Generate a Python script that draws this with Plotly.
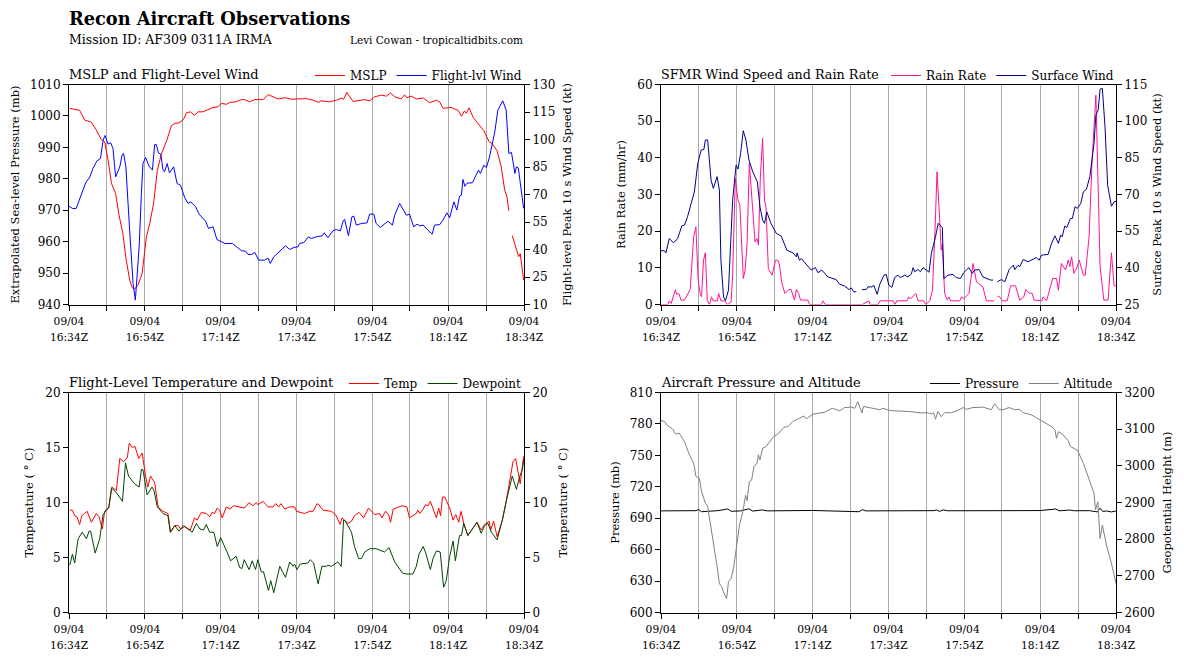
import plotly.graph_objects as go

# ---------- time axis (minutes after 16:34Z) ----------
tick_minutes = [0, 10, 20, 30, 40, 50, 60, 70, 80, 89.9, 100, 110, 120]
tick_times = ["16:34Z", "", "16:54Z", "", "17:14Z", "", "17:34Z", "", "17:54Z", "", "18:14Z", "", "18:34Z"]
tick_date = "09/04"

# ---------- MSLP (mb) ----------
mslp_t = [0.2,2.8,4.1,5.9,7.2,8.5,9.4,10.3,11.2,12.3,13.2,14.2,15.1,16,16.7,17.3,18.2,19.3,20.4,21.3,22.3,23.3,24.4,25.8,27,27.9,29,30.2,31,32,33.1,34,35.3,36.7,38,39.3,40.2,41.5,42.5,44.1,45.5,46.3,47.6,49,51.2,52.5,53.8,55.1,56.9,58.6,60.1,62.6,64.4,65.9,66.5,68.7,70.5,71.8,72.4,73.3,74.9,77.1,78,79.3,80.6,82.4,83.7,84.8,85.9,87.6,88.5,89.1,90.3,91.6,93.4,95.1,96.9,97.8,98.6,100.8,102.6,103.5,104.3,104.8,105.5,106.6,107.9,109.4,110.8,111.6,112.9,114,114.9,115.5,116,116.4,116.9,117.5,118.6,119,119.9]
mslp_v = [1002.4,1001.8,998.7,998,995.5,992.5,991.8,986,978.5,975.3,968.4,962.6,954.1,947.8,945.3,944.9,946.2,949.9,961.5,965.8,972.1,982.7,988,992.3,996.9,997.6,997.8,998.9,1001,1001.3,1000.2,1001.3,1001.3,1002,1002.7,1002.9,1004,1003.7,1004.3,1004.5,1005.2,1005.2,1004.5,1005.2,1005.2,1006.8,1006,1005.4,1005.8,1005.3,1005.4,1005.5,1005,1004.3,1004.8,1004.5,1005,1005.7,1005.3,1007.5,1004.6,1004.9,1005.2,1004.8,1006.1,1006.6,1006.3,1007.3,1006.1,1005.4,1006.7,1005.8,1006.3,1005.4,1005.7,1004.2,1005,1004.4,1002.4,1002.7,1001.8,999.9,1001.6,1000.8,1002.6,999.5,997.4,995.3,991.8,991.2,988.9,983.8,976.4,974.3,969.8,None,961.9,959.4,955.2,956.2,947.8]

# ---------- Flight-level wind (kt) ----------
flwind_t = [0,0.9,1.9,3,4.4,5.5,6.3,7.4,8.3,9,9.5,10.3,11,11.6,12.3,13.4,14,14.4,15,16,16.9,17.5,18.5,19.1,19.5,20.2,21.1,22,22.6,23,23.6,24.2,24.8,25.2,25.9,26.5,27.6,28.5,29.4,30.5,31.4,32.1,33.4,34.3,36,36.8,38,39,41.1,43.1,45.5,46.6,47.2,48.1,49,50,51.6,52.5,53.1,54,55.6,57.1,58.2,59.3,60.4,60.8,61.9,63.2,63.9,65.2,66.8,67.3,68.3,69.6,70.5,71.6,72.3,72.7,73.7,74.6,75.1,75.8,77.1,78.6,79.3,80.4,81,82.1,84.1,85.3,85.9,87.2,89,89.8,90.9,91.8,92.5,93.4,94.7,95.8,96.4,97.8,98.6,99.7,100.4,101.5,102.3,103,103.5,103.9,104.4,105,106.4,107.2,108,108.5,109.4,110.1,110.9,112.3,113.1,114.4,115.3,116,116.7,117.6,118,118.5,119.9]
flwind_v = [63.6,62.4,62.4,68.4,76.4,79.6,84.2,88.4,89.6,99.6,102.2,97.5,98.2,95.1,79.6,85.1,91.5,92.4,85.1,50.5,21.5,12.4,41.5,70.5,86.9,90.2,85.5,83.3,97.3,97.3,92.7,92,83.3,82.4,86.9,81.8,85.1,76,75.1,68.4,65.1,66,63.3,59.3,55.5,51.5,52.4,45.5,43.3,43.3,39.3,39.1,37.3,37.3,38.4,34.2,34.2,35.3,32.4,36,39.1,42,40,41.1,41.5,43.3,43.8,46.9,46,46.9,47.5,49.1,46.4,50.2,50.9,50.2,55.6,56.4,47.5,57.8,58.2,53.3,54.2,54.5,59.3,59.3,54.2,52,55.5,53.3,58.7,65.1,58.7,59.3,52.4,53.8,52.9,53.3,50.5,48.4,53.3,53.6,56,60,57.3,66,61.5,69.1,69.6,78.2,74.5,76.2,76.4,79.6,83.3,81.5,86,84.7,90.5,104.2,116,121.1,116,92.4,92.9,81.5,85.1,84.5,62.4]

# ---------- Rain rate (mm/hr) ----------
rain_t = [0,1.8,2.2,2.7,3.8,4.1,4.7,5.3,6.2,7.7,8.6,9.2,9.8,10.3,10.7,11.2,11.7,12.2,12.8,13.3,13.8,14.9,15.2,15.8,16.7,17.6,18.5,18.9,19.6,20.3,20.8,21.7,22.2,22.7,23.3,24.2,24.8,25.3,25.7,26.2,26.8,27.3,27.7,28.3,29.3,30.2,30.8,31.2,31.9,32.7,33.7,34.3,35.2,35.7,36.3,36.8,38.7,39.2,42.3,42.7,43.3,49.7,53.1,54.8,55.2,57.2,57.8,61.2,61.7,62.2,64.9,65.3,65.8,67.2,67.8,69.3,69.8,70.9,71.6,72.3,72.8,73.5,73.9,74.2,74.8,75.5,75.9,76.4,78.8,79.3,79.8,81.2,81.9,82.3,83.2,84.2,84.9,85.8,87.9,88.3,88.7,89.3,90,91.3,92.2,93.5,94.6,95.7,96.2,97,97.9,98.4,100.4,100.8,101.7,103.3,104.3,104.8,105.6,106.7,107.4,107.8,108.3,108.9,109.6,110.3,111.4,111.9,112.9,113.7,114.7,115.8,116.8,117.9,118.8,119.5,120]
rain_v = [0,0,1,0.3,4.1,2.8,3,1.2,1.2,4.1,18.5,21.2,6.6,3,2.1,12.1,14.1,1.2,0,2.1,1,1,3,1,1,0,0.7,8.5,34.4,28.5,27.1,7.1,9.4,16.6,38.5,25.7,17.1,18,16.2,34.8,45.3,28.5,26.6,9.8,8,12.1,12.1,11,5.7,3,4.1,4.1,1.2,4.1,3,1.2,1.2,0,0,1,0,0,0,1,0,0,1,1,0,1,1,2.1,1.5,3,1,1,0,1,3.9,21.2,36.2,23,14.8,16.6,3,1.2,2.1,1,1,2.1,1.5,3,7.5,11.2,6.2,5.3,4.8,1,1,None,2.3,2.1,1,1,5.1,5.1,1.2,2.1,4.1,3.2,3,1.2,1,2.1,1,7.1,7.1,3.9,11.2,9.4,12.1,10.3,13,8.5,9.8,12.1,8,8,18.5,39.4,57.1,10.3,1.2,1.2,14.1,5.1,5.1]

# ---------- SFMR surface wind (kt) ----------
sfmr_t = [0,0.9,1.3,2.2,3.3,4.4,5.5,6.2,7,8.2,8.8,9.7,10.6,11.3,11.7,12.3,13.2,13.8,14.8,15.4,15.8,16.5,17,17.8,18.9,19.8,20.3,21,21.7,22.4,23.2,24.2,25.4,26.1,26.8,27.3,27.9,29,30.4,31.7,33.2,34.8,35.7,35.9,36.5,37,38.3,39.6,40.7,41.4,42.4,44,46.2,47.1,48.4,49.6,50.2,50.8,51.5,52.2,53,54.1,54.6,55.7,56.1,57,57.7,58.8,59.4,60.1,60.9,61.6,62.5,63.1,64.3,65.1,66,66.5,66.9,67.8,68.4,69.1,70.7,71.3,72.4,73.1,74.2,74.6,75.7,77,77.9,79,79.8,81.2,82.1,82.7,83.9,84.9,86.9,87.6,88.1,88.7,89.8,90.7,91.8,92.9,93.3,94.2,94.6,95.5,96.8,99,99.7,100.4,102.1,103,103.9,104.8,105.4,105.8,106.5,107,108,108.5,109.2,109.8,110.7,111.4,112.2,113.1,114.2,114.7,115.3,115.8,116.4,117.1,117.8,118.8,119.5,120]
sfmr_v = [47,47,46.1,52,50.2,52,57.2,57.5,60.9,67,71.1,82.7,88.2,88.4,92.3,92.3,75.9,72.5,77.3,71.8,43.1,28.1,26.5,30.9,67.7,82,80.4,86.8,96.1,92.3,84.1,79.3,75.2,65,59.5,58.2,62.9,58.2,54.1,53,47.2,46.1,44.5,46.1,43.1,43.8,41.5,39.1,40.1,38,39.1,36.3,35.2,33.3,32.6,31.1,31.8,30.2,30.2,None,31.1,31.1,32.2,32.2,32.9,29.2,33.3,37,37.3,32.9,32,36,37,36,37,36.3,37.4,40.1,38.4,39.3,38.4,40.1,38.2,45.9,52.7,58.2,56.5,35.6,37,37.3,36,35.6,38,40.1,37.7,39.1,39.3,36.3,35,35,None,34.3,35.2,34.3,39.3,41.1,39.3,41.1,40.4,43.4,42.5,44.2,43.1,45.2,45.5,50,53.1,50,53.4,52.7,57.1,56.4,60.2,60.2,65,64.3,66.3,71.1,72.1,77.3,90.9,102.5,104.5,113.1,113.4,97.7,73.8,65.2,67,67.2]

# ---------- Temperature and dewpoint (deg C) ----------
temp_t = [0.2,0.9,1.5,2.1,2.8,3.4,4.1,4.8,5.9,7.2,7.9,8.8,9.4,10.5,11.3,12.5,13.4,14.4,15.4,15.9,16.7,17.4,18.4,19.3,20.2,20.8,21.5,22.6,23.5,24.8,26.1,26.8,27.9,28.8,29.4,30.5,32,33.1,33.8,34.9,36.2,37.1,37.7,38.4,39.1,39.7,40.4,41.5,42.4,43.4,46.3,47.5,48.5,49.4,49.8,51.2,52.5,53.8,54.5,55.3,55.9,56.9,58.2,59.5,60,62.1,63.5,64.4,65.4,65.9,67,69.2,70.3,71.5,72,73.6,74.5,75.3,76.5,77.7,79,80.6,81.9,82.5,83.5,84.3,84.8,85.5,86.3,87.8,89.1,89.8,91.6,92,92.5,93.4,94,94.7,95.3,96.2,96.9,97.5,98,98.5,99.1,100.4,101.3,102,102.8,103.4,104.1,105.2,106.6,107.6,108.7,109.6,110.8,111.2,112,112.9,114.3,115.3,117.1,117.8,119,119.9]
temp_v = [9.3,9.3,8.8,8.7,8,8.8,9,9.2,8.2,9,8.7,7.6,9.2,9.5,11.4,11.1,14,13.7,14.1,15.4,15,15.1,14,14.5,12.4,11.4,12.4,11.8,9.6,9.2,9,7.3,7.9,7.9,7.6,7.8,7.5,8.6,8.4,9.1,9,8.7,9.1,9,9.5,9.3,8.6,9.6,9.4,9.7,9.5,10,9.7,10,9.8,10.1,9.6,9.6,9.9,9.6,9.9,9.4,9.6,9.6,9.2,9,9.2,9.2,9.9,9.8,9.3,9.2,8.9,8,8.6,8.1,8.3,8.8,9.1,8.6,9.5,8.9,9,8.6,9.2,8.9,8.2,9.4,9.5,9.7,9.6,8.6,9,9.3,9,9.4,9.8,9.7,10.1,9.3,8.6,9.5,8.8,10.5,10.5,9.5,8.4,8.9,8.2,9.2,8.1,7,7.7,8.2,7.5,8,8.3,7.5,8.3,6.9,8.4,10.1,13.7,14,11.7,14.2]
dew_t = [0.2,0.9,1.5,2.4,3.5,4.6,5.3,5.7,6.9,8.1,9,10.5,11.2,12.5,14.1,14.9,15.7,17.3,18.5,19.1,19.5,20.6,21.9,22.4,23.3,24.8,26.1,26.7,27.9,29,30.2,32.5,33.6,34.5,35.5,36.2,37.1,38.2,39.1,40,41.8,42.6,44.1,45,45.6,46.2,47.5,48.3,49.2,49.8,50.7,51.3,52.6,53.2,54,55.6,56.3,57.1,58.2,59.1,59.5,60.1,61,63,63.6,64.5,65.7,66.7,67.9,68.3,69.2,70.9,71.8,72.4,72.9,74.5,75.3,76.4,77.1,78,79.3,81,83.2,84.4,85.9,87.9,89,90.7,91.6,92.3,93.4,94.1,95.3,96,96.9,97.9,98.8,99.5,100.4,101.3,101.9,103,103.5,104.1,105.2,106.6,107.6,108.7,109.6,110.5,111.4,112.9,114.3,115.3,116.9,118,118.9,119.6,119.9]
dew_v = [4.3,5.3,4.5,6.7,7.3,6.7,7.4,7.4,5.4,6.7,8.9,9.6,11.3,10.9,10.1,13.6,12.4,11.7,11.4,13,13,10.7,11.4,11.1,9.6,9,8.8,7.3,7.9,7.4,7.9,7.3,8.1,7.6,7.5,8,7.3,7.3,6,6.8,5.4,4.7,5.1,4.1,4,4.8,3.9,4.7,3.9,4.8,3.7,3.7,2,2.9,1.8,4.2,3.7,3.2,4.6,4.2,4.4,3.9,4.4,4.5,4.8,4.5,2.6,4.2,4.2,4.3,4.2,4.6,4.2,8.4,8.3,7.3,6,4.9,4.9,5.5,5.8,5.8,5.5,5.9,4.6,3.6,3.5,3.5,4.2,5.3,6,5.4,3.9,4.9,5.6,5.5,2.3,2.9,5.1,6.5,4.7,7,7,8.1,7,7.7,8.2,7.2,7.9,8.1,7.3,6.6,8.4,10.1,12.4,11.2,12.4,13,13.9]

# ---------- Aircraft pressure (mb) and altitude (m) ----------
press_t = [0,3,6,9.2,9.9,10.7,12.3,15,17.6,18.5,21,23.2,24.2,25.5,26.7,28,33,40,52.2,53.1,54,60,72,72.6,73.5,74.4,75.5,90,100,104.1,105,106,107.8,109,113,115.1,115.8,116.5,117.5,118.8,120]
press_v = [697,697.2,697,697.2,698.2,696.2,696.6,697.2,698.8,696.6,697,699,696.8,697.3,697.9,697,697.3,697.4,696.2,698.2,697,697.3,697.2,698,696.5,698,697.1,697.2,697.3,698.8,697.1,697.3,697.8,697.1,697.2,696,699.5,696.5,696.9,696,697]
alt_t = [0,0.9,1.8,3.1,3.8,4.8,6.2,7.5,8.4,8.8,9.2,10.1,10.7,11.7,12.3,12.8,13.6,14.1,14.8,15.4,16,16.5,17.3,17.8,18.5,19.2,20,20.7,21.6,22.3,22.7,23.3,23.9,24.5,25.3,25.7,26.1,26.8,27.7,29.7,30.8,32.4,33.5,34.8,36.5,37.7,38.3,39,40.1,43.1,45.2,47.1,48.4,50.2,51.1,51.9,53,53.4,55.9,57.7,58.5,60.3,61.6,65.6,68.7,70,71.3,71.9,72.4,73,73.9,74.8,76.6,78.3,79.7,80.5,82.3,85,87.1,88,89.2,90.2,91.8,93.3,94.6,95.5,97.7,99.5,100.6,103,103.9,104.3,104.8,105.8,107.4,108,109.8,111.4,113.1,114.2,114.6,115.2,115.8,116.4,117.6,118.8,120]
alt_v = [3123.5,3120.8,3109,3100,3087,3089,3066,3030,3011.5,2998,2971,2966,2930,2898,2890,2857,2816,2779,2725,2679,2670,2656,2638,2684,2693,2725,2788,2839,2875,2920,2905,2957,2961,2998,3007,3030,3016,3048,3052.5,3080,3086,3105,3107,3121,3130,3136,3128,3134,3141,3146,3157,3150,3159,3160,3157,3175,3144,3162,3157,3153,3157,3151,3150,3148,3144,3145,3142,3145,3127,3148,3134,3145,3145,3151,3159,3154,3159,3160,3153,3169,3153,3153,3159,3153,3154,3145,3139,3128,3121,3107,3098,3075,3093,3087,3069,3052.5,3043,3007,2957,2925,2880,2902,2802,2838.5,2779,2734,2679]

W, H = 1184, 660
SERIF = "DejaVu Serif"
TICK = 12
LINE = 1.0
SPAN = "<span style='font-size:10.7px'>%s</span>"
tick_labels = [(SPAN % tick_date) + "<br>" + (SPAN % t) if t else "" for t in tick_times]

fig = go.Figure()

panels = [
    dict(px=(69, 524), py=(84.5, 304.5), title="MSLP and Flight-Level Wind", tsize=13, lstand=8, rstand=8,
         ltitle="Extrapolated Sea-level Pressure (mb)", rtitle="Flight-level Peak 10 s Wind Speed (kt)",
         lrange=(940, 1010), rrange=(10, 130), lticks=list(range(940, 1011, 10)), rticks=list(range(10, 131, 15)),
         left=("MSLP", mslp_t, mslp_v, "#ff0000"), right=("Flight-lvl Wind", flwind_t, flwind_v, "#0000ff")),
    dict(px=(661, 1116), py=(84.5, 304.5), title="SFMR Wind Speed and Rain Rate", tsize=12.75, lstand=9, rstand=6,
         ltitle="Rain Rate (mm/hr)", rtitle="Surface Peak 10 s Wind Speed (kt)",
         lrange=(0, 60), rrange=(25, 115), lticks=list(range(0, 61, 10)), rticks=list(range(25, 116, 15)),
         left=("Rain Rate", rain_t, rain_v, "#ff1493"), right=("Surface Wind", sfmr_t, sfmr_v, "#00008b")),
    dict(px=(69, 524), py=(392.5, 612.5), title="Flight-Level Temperature and Dewpoint", tsize=13, lstand=9, rstand=12,
         ltitle="Temperature ( ° C)", rtitle="Temperature ( ° C)",
         lrange=(0, 20), rrange=(0, 20), lticks=list(range(0, 21, 5)), rticks=list(range(0, 21, 5)),
         left=("Temp", temp_t, temp_v, "#ff0000"), right=("Dewpoint", dew_t, dew_v, "#004400")),
    dict(px=(661, 1116), py=(392.5, 612.5), title="Aircraft Pressure and Altitude", tsize=13, lstand=7, rstand=9,
         ltitle="Pressure (mb)", rtitle="Geopotential Height (m)",
         lrange=(600, 810), rrange=(2600, 3200), lticks=list(range(600, 811, 30)), rticks=list(range(2600, 3201, 100)),
         left=("Pressure", press_t, press_v, "#000000"), right=("Altitude", alt_t, alt_v, "#808080")),
]

annotations = []
layout = {}
for i, p in enumerate(panels):
    xname = "xaxis" if i == 0 else f"xaxis{i + 1}"
    xref = "x" if i == 0 else f"x{i + 1}"
    ly = 2 * i + 1
    ry = 2 * i + 2
    lyname = "yaxis" if ly == 1 else f"yaxis{ly}"
    lyref = "y" if ly == 1 else f"y{ly}"
    ryname = f"yaxis{ry}"
    ryref = f"y{ry}"
    legname = "legend" if i == 0 else f"legend{i + 1}"
    dom_x = [p["px"][0] / W, p["px"][1] / W]
    dom_y = [1 - p["py"][1] / H, 1 - p["py"][0] / H]
    common = dict(showline=True, linecolor="black", linewidth=1, ticks="outside", ticklen=5, tickwidth=1,
                  tickcolor="black", zeroline=False, automargin=False)
    layout[xname] = dict(domain=dom_x, range=[0, 120], anchor=lyref, tickmode="array", tickvals=tick_minutes,
                         ticktext=tick_labels, showgrid=True, gridcolor="#a9a9a9", gridwidth=1, mirror=True,
                         tickangle=0, tickfont=dict(size=12.3, family=SERIF), **common)
    layout[lyname] = dict(domain=dom_y, range=list(p["lrange"]), anchor=xref, tickmode="array", tickvals=p["lticks"],
                          showgrid=False, tickfont=dict(size=TICK, family=SERIF),
                          title=dict(text=p["ltitle"], font=dict(size=11.5, family=SERIF), standoff=p["lstand"]), **common)
    layout[ryname] = dict(domain=dom_y, range=list(p["rrange"]), anchor=xref, overlaying=lyref, side="right",
                          tickmode="array", tickvals=p["rticks"], showgrid=False,
                          tickfont=dict(size=TICK, family=SERIF),
                          title=dict(text=p["rtitle"], font=dict(size=11.5, family=SERIF), standoff=p["rstand"]), **common)
    layout[legname] = dict(orientation="h", xref="paper", yref="paper", x=(p["px"][1] + 3) / W,
                           y=1 - (p["py"][0] + 5.5) / H, xanchor="right", yanchor="bottom",
                           bgcolor="rgba(0,0,0,0)", borderwidth=0, itemwidth=30,
                           font=dict(size=12, family=SERIF), tracegroupgap=0, traceorder="normal")
    for side, yref in (("left", lyref), ("right", ryref)):
        name, t, v, color = p[side]
        fig.add_trace(go.Scatter(x=t, y=v, name=name, mode="lines", xaxis=xref, yaxis=yref,
                                 line=dict(color=color, width=LINE), legend=legname, connectgaps=False,
                                 hoverinfo="skip"))
    annotations.append(dict(text=p["title"], x=(p["px"][0] - 1) / W, y=1 - (p["py"][0] - 2) / H, xref="paper", yref="paper",
                            xanchor="left", yanchor="bottom", showarrow=False, borderpad=0,
                            font=dict(size=p["tsize"], family=SERIF, color="black")))

annotations += [
    dict(text="<b>Recon Aircraft Observations</b>", x=68 / W, y=1 - 30 / H, xref="paper", yref="paper",
         xanchor="left", yanchor="bottom", showarrow=False, borderpad=0, font=dict(size=17.75, family=SERIF, color="black")),
    dict(text="Mission ID: AF309 0311A IRMA", x=68 / W, y=1 - 48 / H, xref="paper", yref="paper",
         xanchor="left", yanchor="bottom", showarrow=False, borderpad=0, font=dict(size=12.5, family=SERIF, color="black")),
    dict(text="Levi Cowan - tropicaltidbits.com", x=524 / W, y=1 - 47 / H, xref="paper", yref="paper",
         xanchor="right", yanchor="bottom", showarrow=False, borderpad=0, font=dict(size=10.5, family=SERIF, color="black")),
]

fig.update_layout(width=W, height=H, margin=dict(l=0, r=0, t=0, b=0, autoexpand=False), paper_bgcolor="white",
                  plot_bgcolor="white", font=dict(family=SERIF, color="black"), annotations=annotations,
                  showlegend=True, **layout)

fig.write_html("out.html", config={"displayModeBar": False}, post_script="document.body.style.margin='0';")
